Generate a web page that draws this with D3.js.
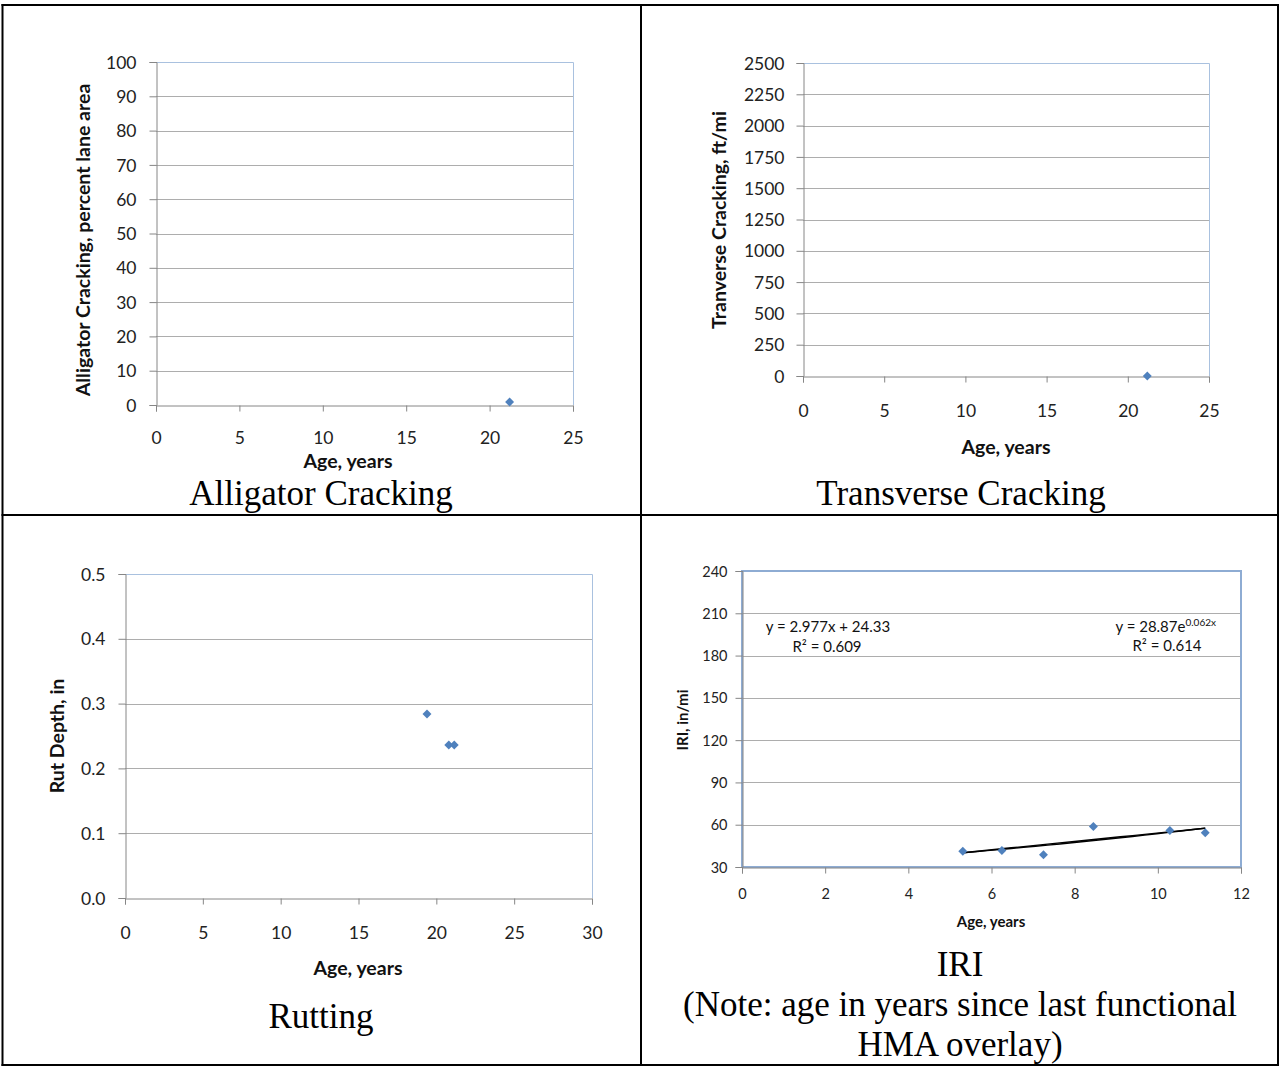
<!DOCTYPE html>
<html>
<head>
<meta charset="utf-8">
<script src="https://cdn.jsdelivr.net/npm/d3@7"></script>
<style>
  body { margin: 0; background: #fff; }
  svg { display: block; }
</style>
</head>
<body>
<svg id="fig" width="1279" height="1066"></svg>
<script>
// ---- Alligator cracking ----
const alligatorAge = [21.2];
const alligatorPct = [0.9];
const alligatorXTicks = [0, 5, 10, 15, 20, 25];
const alligatorYTicks = [0, 10, 20, 30, 40, 50, 60, 70, 80, 90, 100];

// ---- Transverse cracking ----
const transverseAge = [21.2];
const transverseFtMi = [0];
const transverseXTicks = [0, 5, 10, 15, 20, 25];
const transverseYTicks = [0, 250, 500, 750, 1000, 1250, 1500, 1750, 2000, 2250, 2500];

// ---- Rutting ----
const rutAge = [19.4, 20.8, 21.15];
const rutDepth = [0.284, 0.236, 0.236];
const rutXTicks = [0, 5, 10, 15, 20, 25, 30];
const rutYTicks = [0, 0.1, 0.2, 0.3, 0.4, 0.5];

// ---- IRI ----
const iriAge = [5.31, 6.25, 7.25, 8.45, 10.29, 11.14];
const iriValue = [41.2, 41.7, 38.7, 58.8, 55.9, 54.3];
const iriXTicks = [0, 2, 4, 6, 8, 10, 12];
const iriYTicks = [30, 60, 90, 120, 150, 180, 210, 240];
// trend lines: linear [slope, intercept], exponential [coefficient, rate], R² [linear, exponential]
const iriLinearFit = [2.977, 24.33];
const iriExpFit = [28.87, 0.062];
const iriFitR2 = [0.609, 0.614];

const svg = d3.select("#fig");
svg.append("rect").attr("width", 1279).attr("height", 1066).attr("fill", "#fff");

const SANS = "Lato, 'Open Sans', sans-serif";
const SERIF = "'Liberation Serif', 'DejaVu Serif', serif";
const MARKER = "#4F81BD";

function drawPanel(cfg) {
  const g = svg.append("g");
  const x = d3.scaleLinear().domain(cfg.xDomain).range([cfg.left, cfg.right]);
  const y = d3.scaleLinear().domain(cfg.yDomain).range([cfg.bottom, cfg.top]);

  // horizontal gridlines
  g.append("g").selectAll("line")
    .data(cfg.yTicks.filter(t => t !== cfg.yDomain[0]))
    .join("line")
    .attr("x1", cfg.left).attr("x2", cfg.right)
    .attr("y1", d => Math.round(y(d)) + 0.5).attr("y2", d => Math.round(y(d)) + 0.5)
    .attr("stroke", "#ADADAD").attr("stroke-width", 1);

  // plot-area frame
  if (cfg.fullFrame) {
    g.append("rect")
      .attr("x", cfg.left).attr("y", cfg.top)
      .attr("width", cfg.right - cfg.left).attr("height", cfg.bottom - cfg.top)
      .attr("fill", "none").attr("stroke", cfg.frameColor).attr("stroke-width", cfg.frameWidth);
  } else {
    g.append("path")
      .attr("d", `M${cfg.left},${cfg.top + 0.5}H${cfg.right + 0.5}V${cfg.bottom}`)
      .attr("fill", "none").attr("stroke", cfg.frameColor).attr("stroke-width", cfg.frameWidth);
  }

  // y axis
  const yAxis = g.append("g")
    .attr("transform", `translate(${cfg.left + 0.5},0)`)
    .call(d3.axisLeft(y).tickValues(cfg.yTicks).tickSize(7).tickFormat(cfg.yFormat || d3.format("d")));
  yAxis.selectAll("path, line").attr("stroke", "#868686");
  yAxis.selectAll("text")
    .attr("x", -cfg.yLabelGap).attr("dy", "0.35em")
    .attr("font-family", SANS).attr("font-size", cfg.tickSize).attr("fill", "#222");

  // x axis
  const xAxis = g.append("g")
    .attr("transform", `translate(0,${cfg.bottom + 0.5})`)
    .call(d3.axisBottom(x).tickValues(cfg.xTicks).tickSize(6).tickFormat(d3.format("d")));
  xAxis.selectAll("path, line").attr("stroke", "#868686");
  xAxis.selectAll("text")
    .attr("y", cfg.xLabelOffset).attr("dy", "0.35em")
    .attr("font-family", SANS).attr("font-size", cfg.tickSize).attr("fill", "#222");

  // axis titles
  g.append("text")
    .attr("x", cfg.xTitle[0]).attr("y", cfg.xTitle[1]).attr("dy", "0.35em")
    .attr("text-anchor", "middle")
    .attr("font-family", SANS).attr("font-weight", 700).attr("font-size", cfg.titleSize)
    .attr("fill", "#111").text("Age, years");
  g.append("text")
    .attr("transform", `translate(${cfg.yTitle[0]},${cfg.yTitle[1]}) rotate(-90)`)
    .attr("dy", "0.35em").attr("text-anchor", "middle")
    .attr("font-family", SANS).attr("font-weight", 700).attr("font-size", cfg.titleSize)
    .attr("fill", "#111").text(cfg.yLabel);

  // optional overlays (trend lines etc.) drawn under the markers
  if (cfg.extra) cfg.extra(g, x, y);

  // diamond markers
  const pts = cfg.xs.map((v, i) => [v, cfg.ys[i]]);
  g.append("g").selectAll("path")
    .data(pts)
    .join("path")
    .attr("d", d3.symbol(d3.symbolSquare, 40))
    .attr("transform", d => `translate(${x(d[0])},${y(d[1])}) rotate(45)`)
    .attr("fill", MARKER);

  // panel caption
  cfg.caption.forEach(c => {
    g.append("text")
      .attr("x", c[1]).attr("y", c[2])
      .attr("text-anchor", "middle")
      .attr("font-family", SERIF).attr("font-size", 35)
      .attr("fill", "#000").text(c[0]);
  });
}

drawPanel({
  xs: alligatorAge, ys: alligatorPct,
  xDomain: [0, 25], yDomain: [0, 100],
  xTicks: alligatorXTicks, yTicks: alligatorYTicks,
  left: 156, right: 573, top: 62, bottom: 405,
  frameColor: "#A9C1DF", frameWidth: 1,
  tickSize: 17.5, titleSize: 19.5, yLabelGap: 20, xLabelOffset: 32.5,
  xTitle: [348, 461], yTitle: [83, 240],
  yLabel: "Alligator Cracking, percent lane area",
  caption: [["Alligator Cracking", 321, 505]]
});

drawPanel({
  xs: transverseAge, ys: transverseFtMi,
  xDomain: [0, 25], yDomain: [0, 2500],
  xTicks: transverseXTicks, yTicks: transverseYTicks,
  left: 803, right: 1209, top: 63, bottom: 376,
  frameColor: "#A9C1DF", frameWidth: 1,
  tickSize: 17.5, titleSize: 19.5, yLabelGap: 19, xLabelOffset: 34,
  xTitle: [1006, 447], yTitle: [719, 220],
  yLabel: "Tranverse Cracking,  ft/mi",
  caption: [["Transverse Cracking", 961, 505]]
});

drawPanel({
  xs: rutAge, ys: rutDepth,
  xDomain: [0, 30], yDomain: [0, 0.5],
  xTicks: rutXTicks, yTicks: rutYTicks, yFormat: d3.format(".1f"),
  left: 125, right: 592, top: 574, bottom: 898,
  frameColor: "#A9C1DF", frameWidth: 1,
  tickSize: 17.5, titleSize: 19.5, yLabelGap: 20, xLabelOffset: 34,
  xTitle: [358, 968], yTitle: [57, 736],
  yLabel: "Rut Depth, in",
  caption: [["Rutting", 321, 1028]]
});

drawPanel({
  xs: iriAge, ys: iriValue,
  xDomain: [0, 12], yDomain: [30, 240],
  xTicks: iriXTicks, yTicks: iriYTicks,
  left: 742, right: 1241, top: 571, bottom: 867,
  fullFrame: true, frameColor: "#8EACD3", frameWidth: 2,
  tickSize: 14.5, titleSize: 15, yLabelGap: 15, xLabelOffset: 26,
  xTitle: [991, 922], yTitle: [683, 720],
  yLabel: "IRI, in/mi",
  caption: [
    ["IRI", 960, 976],
    ["(Note: age in years since last functional", 960, 1016],
    ["HMA overlay)", 960, 1056]
  ],
  extra: (g, x, y) => {
    const [xMin, xMax] = d3.extent(iriAge);
    const xs = d3.range(0, 21).map(i => xMin + (xMax - xMin) * i / 20);
    const lin = d3.line().x(d => x(d)).y(d => y(iriLinearFit[0] * d + iriLinearFit[1]));
    const exp = d3.line().x(d => x(d)).y(d => y(iriExpFit[0] * Math.exp(iriExpFit[1] * d)));
    g.append("path").attr("d", lin(xs)).attr("fill", "none").attr("stroke", "#000").attr("stroke-width", 1.4);
    g.append("path").attr("d", exp(xs)).attr("fill", "none").attr("stroke", "#000").attr("stroke-width", 1.4);

    const eq = g.append("g").attr("font-family", SANS).attr("font-size", 15).attr("fill", "#111");
    eq.append("text").attr("x", 828).attr("y", 627).attr("dy", "0.35em").attr("text-anchor", "middle")
      .text(`y = ${iriLinearFit[0]}x + ${iriLinearFit[1]}`);
    eq.append("text").attr("x", 827).attr("y", 647).attr("dy", "0.35em").attr("text-anchor", "middle")
      .text(`R\u00B2 = ${iriFitR2[0]}`);
    const e2 = eq.append("text").attr("x", 1216).attr("y", 627).attr("dy", "0.35em").attr("text-anchor", "end");
    e2.append("tspan").text(`y = ${iriExpFit[0]}e`);
    e2.append("tspan").attr("font-size", 10).attr("dy", "-0.6em").text(`${iriExpFit[1].toFixed(3)}x`);
    eq.append("text").attr("x", 1167).attr("y", 646).attr("dy", "0.35em").attr("text-anchor", "middle")
      .text(`R\u00B2 = ${iriFitR2[1]}`);
  }
});

// table rules separating the four panels
const rules = svg.append("g").attr("stroke", "#000").attr("stroke-width", 2);
[[2.5, 4, 2.5, 1066], [641, 4, 641, 1066], [1278, 4, 1278, 1066]].forEach(l =>
  rules.append("line").attr("x1", l[0]).attr("y1", l[1]).attr("x2", l[2]).attr("y2", l[3]));
[[1.5, 5, 1279, 5], [1.5, 515, 1279, 515], [1.5, 1065, 1279, 1065]].forEach(l =>
  rules.append("line").attr("x1", l[0]).attr("y1", l[1]).attr("x2", l[2]).attr("y2", l[3]));
</script>
</body>
</html>
